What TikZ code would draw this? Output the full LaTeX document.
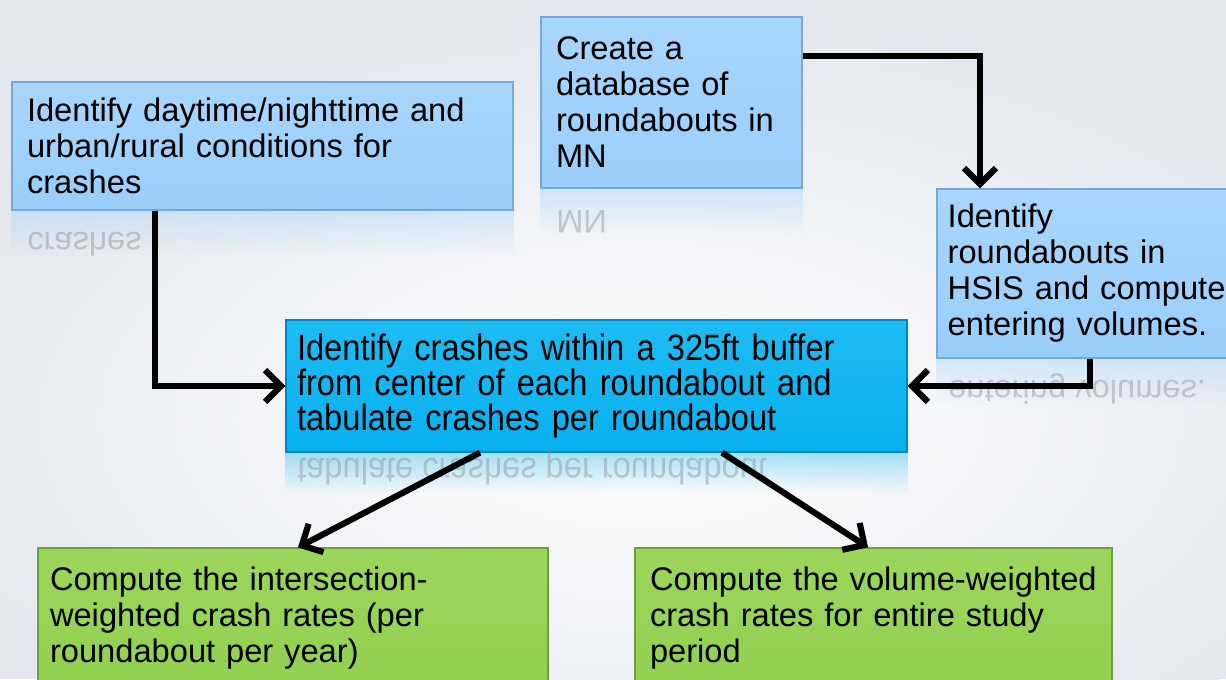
\documentclass[tikz,border=0pt]{standalone}
\usepackage{fontspec}
\setmainfont{Liberation Sans}
\newfontfamily\narrowfont[FakeStretch=0.89]{Liberation Sans}
\usetikzlibrary{arrows.meta,fadings,calc}
\definecolor{lbfill}{RGB}{153,206,250}
\definecolor{lbtop}{RGB}{168,214,252}
\definecolor{lbdraw}{RGB}{115,170,220}
\definecolor{cyfill}{RGB}{8,176,238}
\definecolor{cytop}{RGB}{30,188,244}
\definecolor{cydraw}{RGB}{0,135,195}
\definecolor{grfill}{RGB}{146,208,80}
\definecolor{grtop}{RGB}{156,214,92}
\definecolor{grdraw}{RGB}{108,160,58}
\definecolor{bgc}{RGB}{228,232,238}
\definecolor{refl}{RGB}{140,146,156}
\begin{document}
\begin{tikzpicture}[x=0.75pt,y=-0.75pt,
  flowbox/.style={rectangle, align=left, anchor=center, text=black,
    inner ysep=0pt, line width=0.9pt,
    font=\fontsize{24.5}{27}\selectfont},
  bluebox/.style={flowbox, draw=lbdraw, top color=lbtop, bottom color=lbfill},
  cyanbox/.style={flowbox, draw=cydraw, top color=cytop, bottom color=cyfill,
    font=\narrowfont\fontsize{27.5}{26.5}\selectfont},
  greenbox/.style={flowbox, draw=grdraw, top color=grtop, bottom color=grfill},
  mirror/.style={yscale=-1, transform shape, anchor=base west, inner sep=0pt,
    text=refl, opacity=0.45, font=\fontsize{24.5}{27}\selectfont},
  reflband/.style={path fading=south, opacity=0.35},
  arr/.style={line width=4.6pt, -{Straight Barb[length=12pt,width=24pt]}}
]
\useasboundingbox (0,0) rectangle (1226,679);
\clip (0,0) rectangle (1226,679);
% background
\fill[bgc] (0,0) rectangle (1226,679);
\shade[inner color=white, outer color=bgc] (640,420) ellipse (760 and 400);

% boxes
\node[bluebox, minimum width=375.75pt, minimum height=96pt, text width=353.25pt, inner xsep=11.25pt] (b1) at (262.5,146)
  {Identify daytime/nighttime and\\urban/rural conditions for\\crashes};
\node[bluebox, minimum width=195.75pt, minimum height=128.25pt, text width=173.25pt, inner xsep=11.25pt] (b2) at (671.5,102.5)
  {Create a\\database of\\roundabouts in\\MN};
\node[bluebox, minimum width=227.25pt, minimum height=126.75pt, text width=211.25pt, inner xsep=8pt] (b3) at (1088.5,273.5)
  {Identify\\roundabouts in\\\mbox{HSIS and compute}\\entering volumes.};
\node[cyanbox, minimum width=465.75pt, minimum height=99pt, text width=449.25pt, inner xsep=8.25pt] (b4) at (596.5,386)
  {\mbox{Identify crashes within a 325ft buffer}\\\mbox{from center of each roundabout and}\\tabulate crashes per roundabout};
\node[greenbox, minimum width=382.5pt, minimum height=105pt, text width=364.5pt, inner xsep=9pt] (g1) at (293,618)
  {Compute the intersection-\\weighted crash rates (per\\roundabout per year)};
\node[greenbox, minimum width=357.75pt, minimum height=105pt, text width=335.25pt, inner xsep=11.25pt] (g2) at (873.5,618)
  {\mbox{Compute the volume-weighted}\\crash rates for entire study\\period};

% reflections
\fill[lbfill, reflband] (b1.south west) rectangle ($(b1.south east)+(0,45)$);
\fill[lbfill, reflband] (b2.south west) rectangle ($(b2.south east)+(0,45)$);
\fill[lbfill, reflband] (b3.south west) rectangle ($(b3.south east)+(0,45)$);
\fill[cyfill, reflband] (b4.south west) rectangle ($(b4.south east)+(0,40)$);
\node[mirror] (r1) at (27,232) {crashes};
\node[mirror] (r2) at (556,210) {MN};
\node[mirror] (r3) at (948,380) {entering volumes.};
\node[mirror, font=\narrowfont\fontsize{27.5}{26.5}\selectfont] (r4) at (297,458) {tabulate crashes per roundabout};

% connectors
\draw[arr] ([yshift=-30pt]b2.north east) -| ([xshift=-81.4pt]b3.north);
\draw[arr] ([xshift=1pt]b3.south) |- (b4.east);
\draw[arr] ([xshift=-80.6pt]b1.south) |- (b4.west);
\draw[arr] ([xshift=-87.4pt]b4.south) -- ([xshift=3.75pt]g1.north);
\draw[arr] ([xshift=94.1pt]b4.south) -- ([xshift=-4.1pt]g2.north);
\end{tikzpicture}
\end{document}
